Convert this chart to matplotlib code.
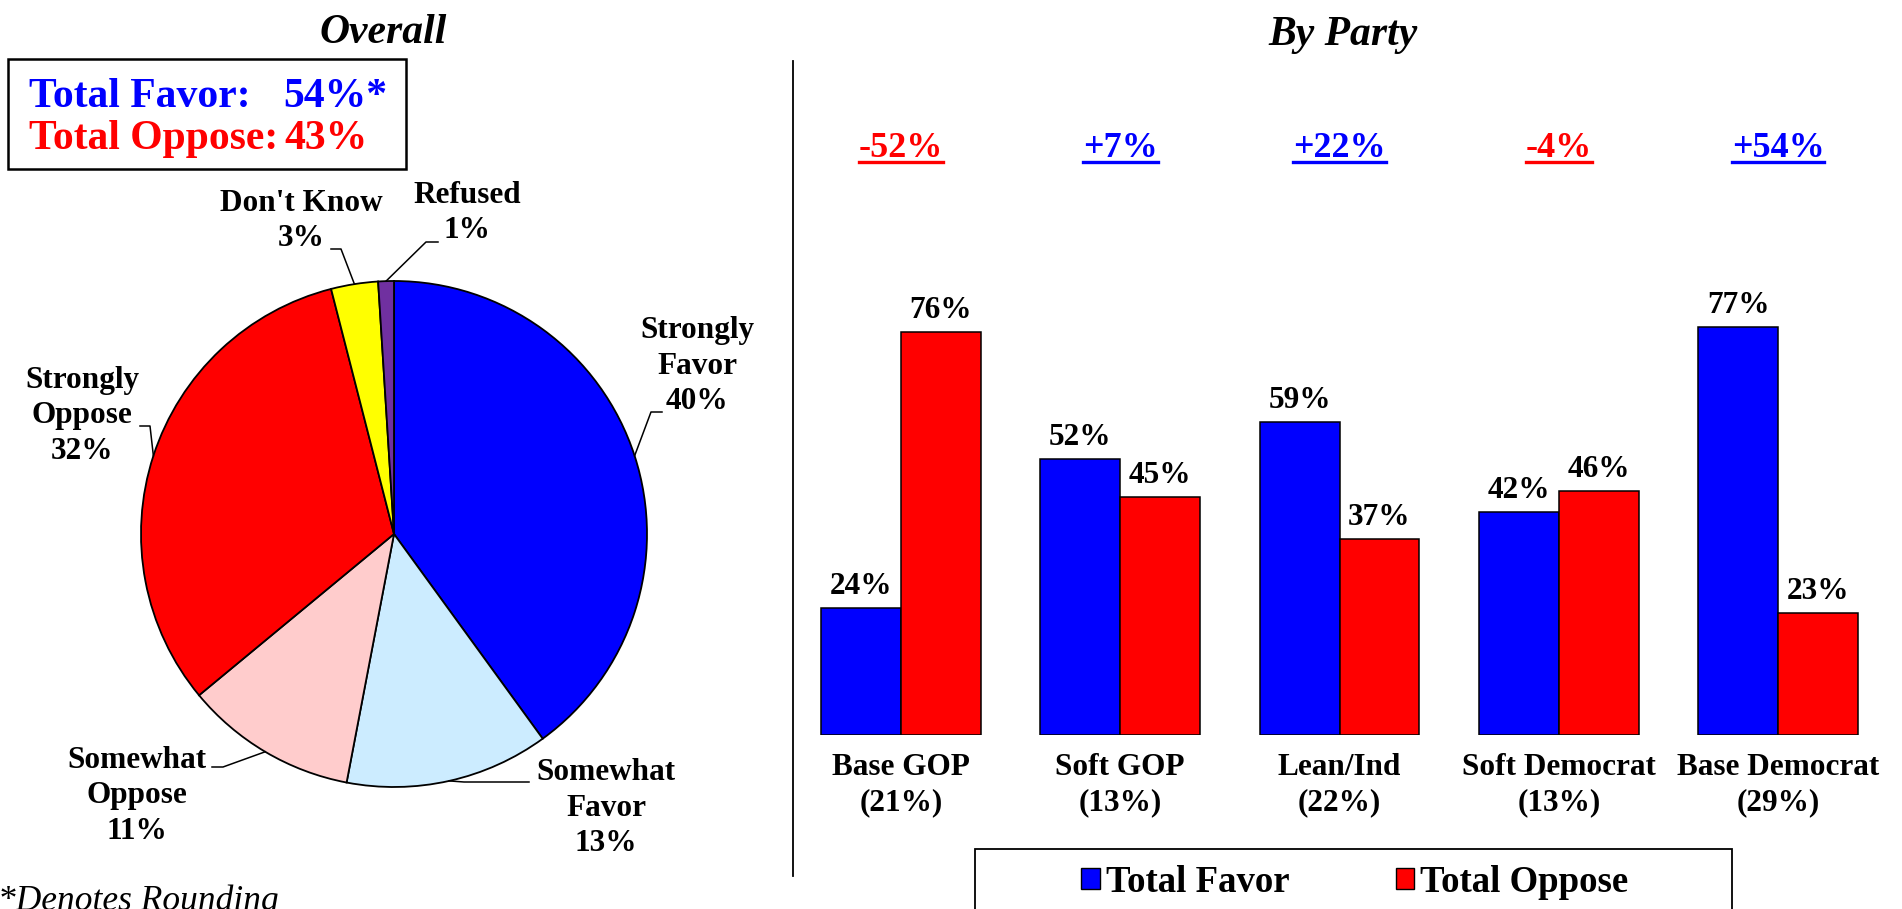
import matplotlib
matplotlib.use("Agg")
import matplotlib.pyplot as plt
import matplotlib.transforms as mtransforms
from matplotlib.patches import Rectangle, Patch
from matplotlib.lines import Line2D
import numpy as np

plt.rcParams['font.family'] = ['Liberation Serif', 'DejaVu Serif']
plt.rcParams['font.weight'] = 'bold'

# overall pie
pie_labels = ["Strongly\nFavor", "Somewhat\nFavor", "Somewhat\nOppose",
              "Strongly\nOppose", "Don't Know", "Refused"]
pie_values = [40, 13, 11, 32, 3, 1]
pie_colors = ["#0000FF", "#CCECFF", "#FFCCCC", "#FF0000", "#FFFF00", "#7030A0"]
total_favor = 54
total_oppose = 43

# by party bars
groups = ["Base GOP", "Soft GOP", "Lean/Ind", "Soft Democrat", "Base Democrat"]
group_share = [21, 13, 22, 13, 29]
favor = [24, 52, 59, 42, 77]
oppose = [76, 45, 37, 46, 23]

BLUE = "#0000FF"
RED = "#FF0000"

W, H = 1902, 909
fig = plt.figure(figsize=(W / 100, H / 100), dpi=100)


def fx(px):
    return px / W


def fy(py):
    return 1 - py / H


# ---- pie ----
R, CX, CY = 253, 394, 534


def pdat(px, py):
    return ((px - CX) / R, (CY - py) / R)


axp = fig.add_axes([0, 0, fx(793), 1])
wedges, _ = axp.pie(pie_values, colors=pie_colors, startangle=90, counterclock=False,
                    radius=1, wedgeprops=dict(edgecolor="black", linewidth=1.3))
axp.set_xlim(pdat(0, 0)[0], pdat(793, 0)[0])
axp.set_ylim(pdat(0, 909)[1], pdat(0, 0)[1])
axp.set_aspect("auto")
axp.axis("off")

# label centre, line end at text, elbow (pixels)
label_layout = [
    ((697, 366), (662, 412), (651, 412)),
    ((606, 808), (529, 782), (464, 782)),
    ((137, 796), (212, 767), (223, 767)),
    ((82, 416), (140, 426), (150, 426)),
    ((301, 221), (331, 249), (341, 249)),
    ((467, 213), (438, 242), (426, 242)),
]
for w, lab, v, (tc, end, elb) in zip(wedges, pie_labels, pie_values, label_layout):
    ang = np.deg2rad((w.theta1 + w.theta2) / 2)
    pts = [(np.cos(ang), np.sin(ang)), pdat(*elb), pdat(*end)]
    axp.plot([p[0] for p in pts], [p[1] for p in pts], color="black", lw=1.1, clip_on=False)
    axp.text(*pdat(*tc), f"{lab}\n{v}%", ha="center", va="center", fontsize=22.5,
             linespacing=1.3)

fig.text(fx(383), fy(43), "Overall", ha="center", va="baseline", fontsize=30, style="italic")

fig.add_artist(Rectangle((fx(8), fy(169)), fx(406) - fx(8), fy(59) - fy(169),
                         transform=fig.transFigure, fill=False, lw=1.8, ec="black"))
fig.text(fx(29), fy(107), "Total Favor:", color=BLUE, fontsize=30, va="baseline")
fig.text(fx(283), fy(107), f"{total_favor}%*", color=BLUE, fontsize=30, va="baseline")
fig.text(fx(29), fy(149), "Total Oppose:", color=RED, fontsize=30, va="baseline")
fig.text(fx(284), fy(149), f"{total_oppose}%", color=RED, fontsize=30, va="baseline")

fig.text(fx(-2), fy(910), "*Denotes Rounding", style="italic", weight="normal",
         fontsize=25.5, ha="left", va="baseline")

# divider
fig.add_artist(Line2D([fx(793)] * 2, [fy(61), fy(876)], transform=fig.transFigure,
                      color="black", lw=1.3))

# ---- bars ----
PX_PER_PCT = 5.30
axb = fig.add_axes([fx(780.4), fy(735), fx(1898.6) - fx(780.4), (735 - 100) / H])
x = np.arange(len(groups))
bw = 0.364
axb.bar(x - bw / 2, favor, bw, color=BLUE, edgecolor="black", lw=1.1)
axb.bar(x + bw / 2, oppose, bw, color=RED, edgecolor="black", lw=1.1)
axb.set_xlim(-0.55, 4.55)
axb.set_ylim(0, 635 / PX_PER_PCT)
for s in axb.spines.values():
    s.set_visible(False)
axb.set_yticks([])
axb.set_xticks(x, [f"{g}\n({s}%)" for g, s in zip(groups, group_share)], fontsize=22.5)
axb.tick_params(axis="x", length=0, pad=13)
for t in axb.get_xticklabels():
    t.set_linespacing(1.3)

for xi, f, o in zip(x, favor, oppose):
    axb.annotate(f"{f}%", (xi - bw / 2, f), xytext=(0, 5), textcoords="offset points",
                 ha="center", va="bottom", fontsize=22.5)
    axb.annotate(f"{o}%", (xi + bw / 2, o), xytext=(0, 5), textcoords="offset points",
                 ha="center", va="bottom", fontsize=22.5)

trans = mtransforms.blended_transform_factory(axb.transData, fig.transFigure)
diff_texts = []
for xi, f, o in zip(x, favor, oppose):
    d = f - o
    c = BLUE if d > 0 else RED
    diff_texts.append(axb.text(xi, fy(157), f"{d:+d}%", transform=trans, ha="center",
                               va="baseline", fontsize=26, color=c))

fig.text(fx(1343), fy(45), "By Party", ha="center", va="baseline", fontsize=30, style="italic")

# legend
handles = [Patch(facecolor=BLUE, edgecolor="black"), Patch(facecolor=RED, edgecolor="black")]
fig.legend(handles, ["Total Favor", "Total Oppose"], loc="center",
           bbox_to_anchor=(fx(1355), fy(882)), ncol=2, frameon=False, fontsize=26.5,
           handlelength=0.5, handleheight=0.5, handletextpad=0.16, columnspacing=2.9)
fig.add_artist(Rectangle((fx(975), fy(925)), fx(1732) - fx(975), fy(849) - fy(925),
                         transform=fig.transFigure, fill=False, lw=1.3, ec="black"))

# underline the differences
fig.canvas.draw()
r = fig.canvas.get_renderer()
for t in diff_texts:
    bb = t.get_window_extent(r)
    fig.add_artist(Line2D([bb.x0, bb.x1], [H - 162] * 2, transform=mtransforms.IdentityTransform(),
                          color=t.get_color(), lw=2.4))

fig.savefig("out.png", dpi=100)
